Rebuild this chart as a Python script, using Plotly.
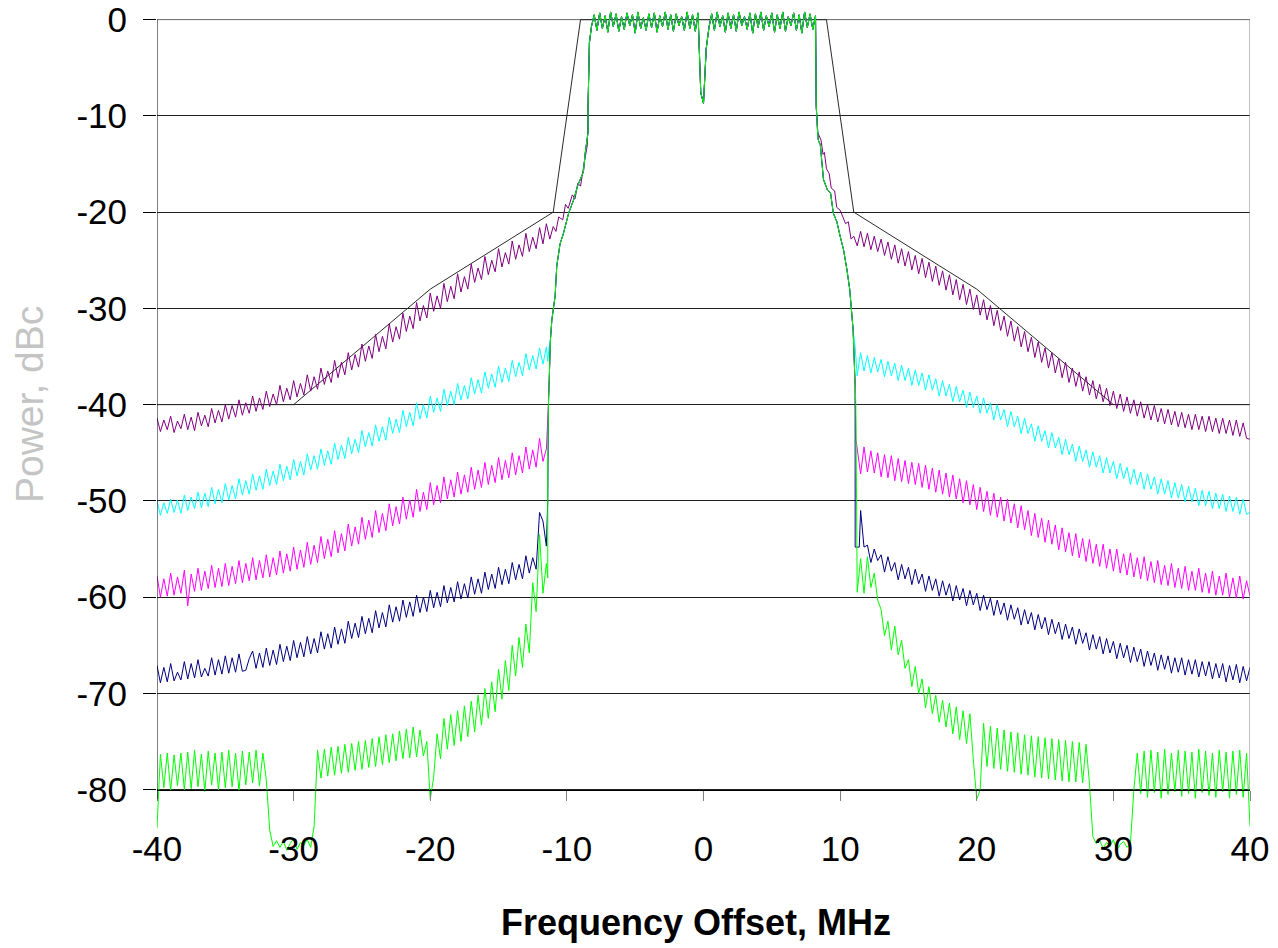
import plotly.graph_objects as go

# ---------------- frequency grids (MHz) ----------------
LEFT_FREQ = [round(-40 + 0.25 * i, 2) for i in range(115)]    # -40 ... -11.5
RIGHT_FREQ = [round(11.5 + 0.25 * i, 2) for i in range(115)]  # 11.5 ... 40
INBAND_FREQ = [round(-8.0 + 0.2 * i, 2) for i in range(81)]    # -8 ... 8

# ---------------- in-band (shared by all traces) ----------------
INBAND = [0.5, -1.1, 0.7, -0.9, 0.4, -1.3, 0.8, -0.7, 0.6, -1.2,
          0.3, -1.0, 0.7, -0.6, 0.5, -1.4, 0.8, -0.9, 0.2, -1.1,
          0.6, -0.8, 0.7, -1.3, 0.4, -0.7, 0.8, -1.0, 0.5, -1.2,
          0.6, -0.6, 0.3, -1.1, 0.8, -0.9, 0.5, -1.2, 0.7, -7.6,
          -8.7, -3.0, -0.8, 0.6, -1.1, 0.8, -0.7, 0.4, -1.3, 0.7,
          -0.9, 0.5, -1.2, 0.8, -0.6, 0.3, -1.0, 0.7, -1.4, 0.6,
          -0.8, 0.8, -1.1, 0.4, -0.7, 0.7, -1.3, 0.5, -0.9, 0.8,
          -1.2, 0.3, -0.6, 0.7, -1.1, 0.5, -1.4, 0.8, -0.8, 0.6, -1.0]

# ---------------- skirts ----------------
EDGE_L_X = [-8.45, -8.35, -8.2]
EDGE_L_Y = [-9.0, -2.4, -0.7]
EDGE_R_X = [8.2, 8.25, 8.35]
EDGE_R_Y = [0.4, -9.0, -11.7]
SKIRT_L_X = [-11.2, -11.1, -10.86, -10.74, -10.5, -10.25, -9.87, -9.5, -9.22, -8.79, -8.66, -8.45]
SKIRT_L_Y = [-33.2, -31.2, -28.7, -25.6, -23.3, -22.2, -20.1, -18.7, -17.3, -15.8, -13.9, -11.7]
SKIRT_R_X = [8.4, 8.55, 8.78, 9.07, 9.3, 9.5, 9.76, 10.0, 10.25, 10.5, 10.7, 10.95]
SKIRT_R_Y = [-12.5, -13.0, -16.6, -17.7, -18.0, -20.1, -21.0, -22.5, -23.9, -26.0, -28.0, -32.2]

PURPLE_LEAD_L_X = [-11.25, -11.0, -10.8, -10.6, -10.3, -10.1, -9.9, -9.6, -9.4, -9.2, -9.0, -8.8, -8.7, -8.5]
PURPLE_LEAD_L_Y = [-22.8, -21.5, -22.0, -20.5, -20.8, -19.2, -19.6, -18.2, -18.6, -17.0, -17.3, -15.5, -14.5, -13.0]
PURPLE_LEAD_R_X = [8.6, 8.75, 8.85, 9.0, 9.2, 9.35, 9.6, 9.75, 10.0, 10.2, 10.4, 10.6, 10.8, 11.0, 11.25]
PURPLE_LEAD_R_Y = [-12.5, -14.0, -13.8, -15.5, -16.0, -17.5, -17.8, -19.5, -19.8, -20.5, -21.2, -21.0, -22.8, -22.5, -23.5]
CYAN_LEAD_L_X, CYAN_LEAD_L_Y = [-11.4, -11.3], [-35.5, -34.0]
CYAN_LEAD_R_X, CYAN_LEAD_R_Y = [11.1, 11.25], [-34.0, -37.0]
MAGENTA_LEAD_L_X, MAGENTA_LEAD_L_Y = [-11.4, -11.35], [-42.0, -40.0]
MAGENTA_LEAD_R_X, MAGENTA_LEAD_R_Y = [11.1, 11.15], [-38.0, -43.5]
NAVY_LEAD_L_X, NAVY_LEAD_L_Y = [-11.4, -11.35], [-50.0, -40.0]
NAVY_LEAD_R_X, NAVY_LEAD_R_Y = [11.1, 11.1, 11.4], [-38.0, -54.8, -54.8]
GREEN_LEAD_L_X, GREEN_LEAD_L_Y = [-11.4, -11.4, -11.35], [-58.0, -45.0, -40.0]
GREEN_LEAD_R_X, GREEN_LEAD_R_Y = [11.15, 11.25], [-40.0, -59.5]

# ---------------- out-of-band noise floors (dBc) ----------------
PURPLE_LEFT = [
    -41.4, -42.8, -41.6, -42.6, -41.2, -42.9, -41.7, -42.5, -41.0, -42.6, -41.3, -42.7,
    -40.8, -42.2, -41.1, -42.3, -40.4, -41.9, -40.6, -41.8, -40.0, -41.5, -40.1, -41.3,
    -39.5, -41.1, -39.8, -40.9, -39.1, -40.7, -39.3, -40.5, -38.6, -40.2, -38.9, -40.0,
    -38.0, -39.7, -38.3, -39.5, -37.5, -39.2, -37.8, -39.0, -36.9, -38.6, -37.1, -38.4,
    -36.2, -37.9, -36.5, -37.7, -35.4, -37.2, -35.6, -36.9, -34.6, -36.4, -34.8, -36.1,
    -33.7, -35.5, -33.9, -35.2, -32.7, -34.5, -32.9, -34.2, -31.6, -33.5, -31.9, -33.2,
    -30.5, -32.4, -30.8, -32.1, -29.4, -31.3, -29.7, -31.0, -28.4, -30.3, -28.7, -30.0,
    -27.4, -29.3, -27.7, -29.0, -26.4, -28.3, -26.7, -28.0, -25.4, -27.3, -25.8, -27.0,
    -24.6, -26.5, -25.0, -26.2, -23.8, -25.7, -24.2, -25.4, -23.0, -24.9, -23.4, -24.6,
    -22.2, -24.1, -22.6, -23.8, -21.6, -23.3, -21.2]
PURPLE_RIGHT = [
    -22.0, -23.6,
    -22.2, -23.9, -22.5, -24.1, -22.8, -24.5, -23.1, -24.9, -23.4, -25.3, -23.8, -25.6,
    -24.1, -26.0, -24.5, -26.4, -24.8, -26.8, -25.2, -27.2, -25.6, -27.6, -26.1, -28.1,
    -26.5, -28.6, -27.0, -29.1, -27.5, -29.6, -28.0, -30.1, -28.6, -30.7, -29.1, -31.2,
    -29.7, -31.8, -30.2, -32.3, -30.8, -32.9, -31.3, -33.4, -31.9, -34.0, -32.4, -34.5,
    -33.0, -35.1, -33.5, -35.6, -34.1, -36.2, -34.6, -36.7, -35.2, -37.2, -35.6, -37.7,
    -36.2, -38.1, -36.6, -38.6, -37.1, -39.0, -37.5, -39.4, -37.9, -39.7, -38.3, -40.1,
    -38.6, -40.4, -38.9, -40.7, -39.2, -40.9, -39.5, -41.2, -39.7, -41.4, -40.0, -41.6,
    -40.1, -41.8, -40.4, -42.0, -40.5, -42.1, -40.7, -42.3, -40.8, -42.4, -41.0, -42.6,
    -41.0, -42.6, -41.2, -42.8, -41.2, -42.8, -41.4, -43.0, -41.4, -43.0, -41.6, -43.2,
    -41.6, -43.3, -41.9, -43.5, -43.6]
CYAN_LEFT = [
    -50.0, -51.5, -50.2, -51.3, -49.8, -51.2, -49.9, -51.3, -49.4, -51.0, -49.6, -50.8,
    -49.1, -50.7, -49.2, -50.6, -48.6, -50.3, -48.8, -50.2, -48.2, -49.9, -48.4, -49.8,
    -47.7, -49.4, -47.9, -49.3, -47.2, -48.9, -47.4, -48.8, -46.7, -48.4, -46.9, -48.3,
    -46.2, -47.9, -46.4, -47.8, -45.7, -47.4, -45.9, -47.3, -45.1, -46.8, -45.3, -46.7,
    -44.6, -46.3, -44.8, -46.2, -44.0, -45.7, -44.2, -45.6, -43.4, -45.1, -43.6, -45.0,
    -42.7, -44.4, -42.9, -44.3, -42.1, -43.8, -42.3, -43.7, -41.3, -43.0, -41.5, -42.9,
    -40.6, -42.3, -40.8, -42.2, -39.8, -41.5, -40.0, -41.4, -39.1, -40.8, -39.3, -40.7,
    -38.4, -40.1, -38.6, -40.0, -37.8, -39.5, -38.0, -39.4, -37.2, -38.9, -37.4, -38.8,
    -36.6, -38.3, -36.8, -38.2, -36.0, -37.7, -36.2, -37.6, -35.4, -37.1, -35.6, -37.0,
    -34.7, -36.4, -34.9, -36.3, -34.1, -35.8, -34.0]
CYAN_RIGHT = [
    -34.6, -36.5,
    -34.9, -36.7, -35.1, -36.6, -35.3, -37.1, -35.5, -37.0, -35.7, -37.5, -35.9, -37.5,
    -36.2, -38.0, -36.4, -38.0, -36.7, -38.5, -36.9, -38.5, -37.3, -39.1, -37.5, -39.1,
    -37.9, -39.7, -38.1, -39.7, -38.5, -40.3, -38.7, -40.3, -39.1, -40.9, -39.3, -40.9,
    -39.8, -41.6, -40.0, -41.6, -40.5, -42.3, -40.7, -42.3, -41.2, -43.0, -41.4, -43.0,
    -42.0, -43.8, -42.2, -43.8, -42.7, -44.5, -42.9, -44.5, -43.4, -45.2, -43.6, -45.2,
    -44.1, -45.9, -44.3, -45.9, -44.7, -46.5, -44.9, -46.5, -45.3, -47.1, -45.5, -47.1,
    -45.9, -47.7, -46.1, -47.7, -46.5, -48.3, -46.7, -48.3, -47.0, -48.8, -47.2, -48.8,
    -47.5, -49.3, -47.7, -49.3, -47.9, -49.7, -48.1, -49.7, -48.3, -50.1, -48.5, -50.1,
    -48.7, -50.5, -48.9, -50.5, -49.0, -50.8, -49.2, -50.8, -49.3, -51.1, -49.5, -51.1,
    -49.6, -51.4, -49.8, -51.4, -51.2]
MAGENTA_LEFT = [
    -57.8, -60.0, -58.1, -59.9, -57.5, -59.8, -57.9, -59.6, -57.2, -60.9, -57.6, -59.4,
    -57.0, -59.3, -57.3, -59.1, -56.7, -59.0, -57.0, -58.9, -56.5, -58.8, -56.8, -58.6,
    -56.2, -58.5, -56.5, -58.3, -55.9, -58.2, -56.2, -58.0, -55.6, -57.9, -55.9, -57.7,
    -55.2, -57.5, -55.5, -57.3, -54.8, -57.1, -55.1, -56.9, -54.3, -56.6, -54.6, -56.4,
    -53.7, -56.0, -54.0, -55.8, -53.1, -55.4, -53.4, -55.2, -52.4, -54.7, -52.7, -54.5,
    -51.7, -54.0, -52.0, -53.8, -51.0, -53.3, -51.3, -53.1, -50.3, -52.6, -50.6, -52.4,
    -49.6, -51.9, -49.9, -51.7, -48.8, -51.1, -49.1, -50.9, -48.1, -50.4, -48.4, -50.2,
    -47.5, -49.8, -47.8, -49.6, -47.0, -49.3, -47.3, -49.1, -46.5, -48.8, -46.8, -48.6,
    -46.0, -48.3, -46.3, -48.1, -45.5, -47.8, -45.8, -47.6, -45.0, -47.3, -45.3, -47.1,
    -44.4, -46.7, -44.7, -46.5, -43.5, -45.9, -44.6]
MAGENTA_RIGHT = [
    -47.2, -44.4,
    -47.0, -44.8, -47.1, -45.0, -47.5, -45.2, -47.6, -45.3, -47.9, -45.6, -48.0, -45.8,
    -48.2, -46.0, -48.3, -46.1, -48.6, -46.3, -48.8, -46.6, -49.1, -46.8, -49.3, -47.1,
    -49.6, -47.3, -49.8, -47.7, -50.2, -47.9, -50.4, -48.3, -50.9, -48.6, -51.1, -49.0,
    -51.5, -49.2, -51.7, -49.6, -52.1, -49.8, -52.3, -50.3, -52.8, -50.5, -53.0, -51.0,
    -53.6, -51.3, -53.8, -51.8, -54.3, -52.0, -54.5, -52.5, -55.1, -52.8, -55.3, -53.3,
    -55.7, -53.4, -55.9, -53.9, -56.3, -54.0, -56.5, -54.5, -56.8, -54.5, -57.0, -55.0,
    -57.3, -55.0, -57.5, -55.5, -57.7, -55.4, -57.9, -55.9, -58.1, -55.8, -58.3, -56.3,
    -58.5, -56.2, -58.7, -56.7, -58.8, -56.5, -59.0, -57.0, -59.1, -56.8, -59.3, -57.3,
    -59.3, -57.0, -59.5, -57.5, -59.6, -57.3, -59.8, -57.8, -59.8, -57.5, -60.0, -58.0,
    -60.1, -57.8, -60.2, -58.3, -59.9]
NAVY_LEFT = [
    -67.1, -68.9, -67.3, -68.8, -66.9, -68.7, -67.8, -68.6, -66.7, -68.5, -66.9, -68.4,
    -66.5, -68.3, -67.4, -68.2, -66.3, -68.1, -66.5, -68.0, -66.1, -67.9, -66.3, -67.8,
    -65.9, -67.7, -67.6, -66.4, -65.6, -67.4, -65.8, -67.3, -65.3, -67.1, -65.5, -67.0,
    -64.9, -66.7, -65.1, -66.6, -64.5, -66.3, -64.7, -66.2, -64.1, -65.9, -64.3, -65.8,
    -63.6, -65.4, -63.8, -65.3, -63.1, -64.9, -63.3, -64.8, -62.5, -64.3, -62.7, -64.2,
    -62.0, -63.8, -62.2, -63.7, -61.4, -63.2, -61.6, -63.1, -60.8, -62.6, -61.0, -62.5,
    -60.3, -62.1, -60.5, -62.0, -59.8, -61.6, -60.0, -61.5, -59.3, -61.1, -59.5, -61.0,
    -58.8, -60.6, -59.0, -60.5, -58.4, -60.2, -58.6, -60.1, -57.9, -59.7, -58.1, -59.6,
    -57.4, -59.2, -57.6, -59.1, -56.9, -58.7, -57.1, -58.6, -56.4, -58.2, -56.6, -58.1,
    -55.7, -57.5, -55.9, -57.1, -51.2, -52.1, -54.7]
NAVY_RIGHT = [
    -51.0, -54.8,
    -54.6, -56.4, -55.0, -56.2, -55.6, -57.4, -55.8, -57.3, -56.4, -58.2, -56.6, -58.1,
    -56.9, -58.7, -57.1, -58.6, -57.6, -59.4, -57.8, -59.3, -58.1, -59.9, -58.3, -59.8,
    -58.6, -60.4, -58.8, -60.3, -59.1, -60.9, -59.3, -60.8, -59.6, -61.4, -59.8, -61.3,
    -60.1, -61.9, -60.3, -61.8, -60.6, -62.4, -60.8, -62.3, -61.1, -62.9, -61.3, -62.8,
    -61.6, -63.4, -61.8, -63.3, -62.1, -63.9, -62.3, -63.8, -62.6, -64.4, -62.8, -64.3,
    -63.1, -64.9, -63.3, -64.8, -63.7, -65.5, -63.9, -65.4, -64.1, -65.9, -64.3, -65.8,
    -64.6, -66.4, -64.8, -66.3, -65.0, -66.8, -65.2, -66.7, -65.4, -67.2, -65.6, -67.1,
    -65.8, -67.6, -66.0, -67.5, -66.1, -67.9, -66.3, -67.8, -66.3, -68.1, -66.5, -68.0,
    -66.5, -68.3, -66.7, -68.2, -66.7, -68.5, -66.9, -68.4, -66.9, -68.8, -67.1, -68.6,
    -67.0, -68.9, -67.2, -68.7, -67.3]
GREEN_LEFT = [
    -84.0, -76.3, -79.8, -76.2, -80.1, -76.4, -79.6, -76.2, -80.0, -76.1, -79.9, -75.9,
    -79.7, -76.3, -80.2, -76.0, -79.5, -76.2, -80.0, -76.1, -79.8, -75.9, -79.7, -76.2,
    -80.1, -76.0, -79.5, -76.1, -79.3, -75.9, -79.6, -76.2, -79.0, -84.2, -85.9, -85.3,
    -86.0, -85.4, -86.3, -85.6, -85.1, -86.2, -85.5, -85.8, -85.2, -86.0, -83.8, -75.9,
    -78.8, -75.8, -78.6, -75.6, -78.5, -75.5, -78.3, -75.3, -78.2, -75.2, -78.0, -75.0,
    -77.9, -74.9, -77.7, -74.7, -77.6, -74.5, -77.4, -74.3, -77.2, -74.2, -77.0, -73.9,
    -76.8, -73.7, -76.7, -73.5, -76.6, -73.8, -76.5, -75.0, -81.0, -78.7, -74.2, -76.8,
    -72.6, -75.8, -72.2, -75.4, -71.8, -75.0, -71.3, -74.5, -70.8, -74.0, -70.2, -73.3,
    -69.5, -72.6, -68.8, -71.9, -67.5, -70.6, -66.6, -69.7, -65.0, -68.2, -64.2, -67.3,
    -62.8, -65.8, -58.5, -61.5, -53.5, -59.6, -56.5]
GREEN_RIGHT = [
    -56.0, -59.6,
    -55.8, -59.0, -57.5, -60.3, -61.3, -64.0, -62.5, -65.5, -63.0, -66.0, -64.5, -67.4,
    -66.5, -69.3, -67.2, -70.0, -68.5, -71.5, -69.3, -72.1, -70.2, -73.0, -70.7, -73.5,
    -71.0, -74.2, -71.4, -74.8, -71.8, -75.2, -72.1, -76.9, -81.0, -80.0, -73.1, -77.6,
    -73.4, -77.8, -73.6, -77.9, -73.8, -78.1, -74.0, -78.2, -74.1, -78.4, -74.3, -78.5,
    -74.4, -78.7, -74.5, -78.8, -74.6, -78.9, -74.7, -79.0, -74.8, -79.1, -74.9, -79.2,
    -75.0, -79.2, -75.1, -79.3, -75.3, -79.4, -84.9, -85.6, -85.3, -86.1, -85.5, -85.9,
    -85.2, -86.3, -85.7, -85.4, -86.0, -85.6, -80.0, -76.2, -80.4, -76.0, -80.8, -75.9,
    -80.3, -76.1, -80.9, -75.8, -80.5, -76.2, -80.2, -75.9, -80.7, -76.0, -80.4, -76.1,
    -80.9, -75.8, -80.3, -76.0, -80.6, -76.2, -80.8, -75.9, -80.2, -76.1, -80.9, -76.0,
    -80.5, -75.9, -80.8, -76.2, -83.8]

# ---------------- spectrum mask ----------------
MASK_X = [-40, -30, -20, -11, -9, 9, 11, 20, 30, 40]
MASK_Y = [-40, -40, -28, -20, 0, 0, -20, -28, -40, -40]

X_TICKS = [-40, -30, -20, -10, 0, 10, 20, 30, 40]
X_TICK_TEXT = ["-40", "-30", "-20", "-10", "0", "10", "20", "30", "40"]
Y_TICKS = [-80, -70, -60, -50, -40, -30, -20, -10, 0]
Y_TICK_TEXT = ["-80", "-70", "-60", "-50", "-40", "-30", "-20", "-10", "0"]

FONT = "Liberation Sans, Arial, sans-serif"


def assemble(left, lead_l, right, lead_r, own_skirt=False):
    xs = list(LEFT_FREQ) + list(lead_l[0])
    ys = list(left) + list(lead_l[1])
    if not own_skirt:
        xs += SKIRT_L_X
        ys += SKIRT_L_Y
    xs += EDGE_L_X + INBAND_FREQ + EDGE_R_X
    ys += EDGE_L_Y + INBAND + EDGE_R_Y
    if not own_skirt:
        xs += SKIRT_R_X
        ys += SKIRT_R_Y
    xs += list(lead_r[0]) + RIGHT_FREQ
    ys += list(lead_r[1]) + list(right)
    return xs, ys


series = [
    ("purple", "#800080", PURPLE_LEFT, (PURPLE_LEAD_L_X, PURPLE_LEAD_L_Y),
     PURPLE_RIGHT, (PURPLE_LEAD_R_X, PURPLE_LEAD_R_Y), True),
    ("cyan", "#00FFFF", CYAN_LEFT, (CYAN_LEAD_L_X, CYAN_LEAD_L_Y),
     CYAN_RIGHT, (CYAN_LEAD_R_X, CYAN_LEAD_R_Y), False),
    ("magenta", "#FF00FF", MAGENTA_LEFT, (MAGENTA_LEAD_L_X, MAGENTA_LEAD_L_Y),
     MAGENTA_RIGHT, (MAGENTA_LEAD_R_X, MAGENTA_LEAD_R_Y), False),
    ("navy", "#000080", NAVY_LEFT, (NAVY_LEAD_L_X, NAVY_LEAD_L_Y),
     NAVY_RIGHT, (NAVY_LEAD_R_X, NAVY_LEAD_R_Y), False),
    ("green", "#00FF00", GREEN_LEFT, (GREEN_LEAD_L_X, GREEN_LEAD_L_Y),
     GREEN_RIGHT, (GREEN_LEAD_R_X, GREEN_LEAD_R_Y), False),
]

fig = go.Figure()
fig.add_trace(go.Scatter(x=MASK_X, y=MASK_Y, mode="lines", name="mask",
                         line=dict(color="#2a2a2a", width=1)))
for name, color, left, lead_l, right, lead_r, own in series:
    xs, ys = assemble(left, lead_l, right, lead_r, own)
    fig.add_trace(go.Scatter(x=xs, y=ys, mode="lines", name=name,
                             line=dict(color=color, width=1)))

Y_MIN, Y_MAX = -87.0, 0.9
fig.update_layout(
    width=1278, height=948,
    margin=dict(l=157, r=28, t=11, b=91, autoexpand=False),
    paper_bgcolor="white", plot_bgcolor="white",
    showlegend=False,
    font=dict(family=FONT, color="black"),
    xaxis=dict(range=[-40, 40], tickvals=X_TICKS, ticktext=X_TICK_TEXT,
               anchor="free", automargin=False, ticklabeloverflow="allow",
               position=(-80 - Y_MIN) / (Y_MAX - Y_MIN),
               showline=True, linecolor="black", linewidth=1,
               ticks="outside", ticklen=10, tickcolor="#808080",
               showgrid=False, zeroline=False, ticklabelstandoff=18,
               tickfont=dict(size=35, family=FONT, color="black")),
    yaxis=dict(range=[Y_MIN, Y_MAX], tickvals=Y_TICKS, ticktext=Y_TICK_TEXT,
               automargin=False, ticklabeloverflow="allow",
               showline=False, ticks="outside", ticklen=13, tickcolor="black",
               showgrid=True, gridcolor="#202020", gridwidth=1,
               zeroline=False, ticklabelstandoff=9,
               tickfont=dict(size=35, family=FONT, color="black")),
    shapes=[
        dict(type="line", xref="x", yref="y", x0=-40, x1=40, y0=0, y1=0,
             layer="between", line=dict(color="#8a8a8a", width=1)),
        dict(type="line", xref="x", yref="y", x0=-40, x1=-40, y0=0, y1=-81,
             line=dict(color="black", width=1)),
        dict(type="line", xref="x", yref="y", x0=40, x1=40, y0=0, y1=-80,
             line=dict(color="#808080", width=1)),
    ],
    annotations=[
        dict(text="<b>Frequency Offset, MHz</b>", xref="paper", yref="paper",
             x=(696 - 157) / 1093, y=(857 - 922) / 846, xanchor="center", yanchor="middle",
             showarrow=False, font=dict(size=36, family=FONT, color="black")),
        dict(text="Power, dBc", xref="paper", yref="paper", textangle=-90,
             x=(29 - 157) / 1093, y=(857 - 405) / 846, xanchor="center", yanchor="middle",
             showarrow=False, font=dict(size=39, family=FONT, color="#c4c4c4")),
    ],
)

fig.write_html("out.html", config={"displayModeBar": False},
               post_script="document.body.style.margin='0';")
